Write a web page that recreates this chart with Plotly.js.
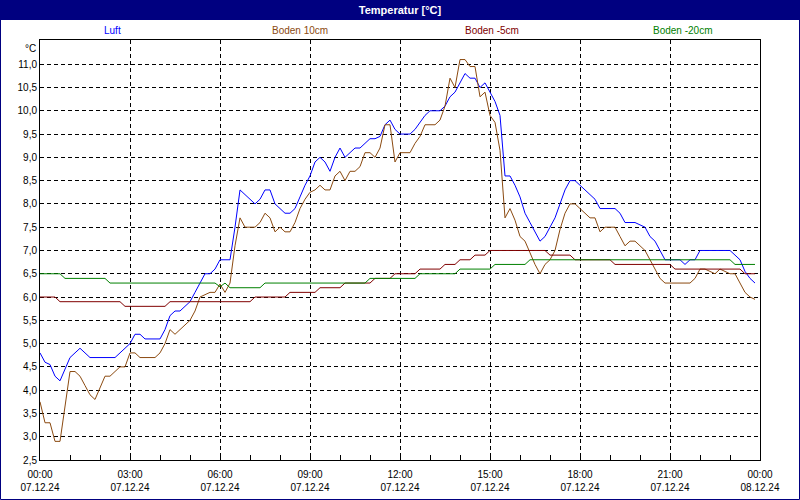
<!DOCTYPE html>
<html>
<head>
<meta charset="utf-8">
<script src="https://cdn.plot.ly/plotly-3.0.1.min.js"></script>
<style>html,body{margin:0;padding:0;background:#fff;}#chart{width:800px;height:500px;}</style>
</head>
<body>
<div id="chart"></div>
<script>
// ---- data (10-minute readings, 07.12.24 00:00 .. 23:50) ----
const startTime = Date.UTC(2024, 11, 7, 0, 0, 0);
const stepMinutes = 10;

const seriesNames = ['Luft', 'Boden 10cm', 'Boden -5cm', 'Boden -20cm'];
const seriesColors = ['#0000FF', '#8B4A10', '#800000', '#008000'];

const luft = [
  4.8,4.6,4.55,4.3,4.2,4.45,4.7,4.8,4.9,4.8,
  4.7,4.7,4.7,4.7,4.7,4.7,4.8,4.9,5.0,5.2,
  5.2,5.1,5.1,5.1,5.1,5.3,5.6,5.7,5.7,5.8,
  5.9,6.1,6.3,6.5,6.5,6.6,6.8,6.8,6.8,7.5,
  8.3,8.2,8.1,8.0,8.1,8.3,8.3,8.0,7.9,7.8,
  7.8,7.9,8.15,8.4,8.6,8.9,9.0,8.9,8.7,9.0,
  9.2,9.0,9.1,9.2,9.2,9.3,9.4,9.4,9.45,9.7,
  9.8,9.6,9.5,9.5,9.5,9.6,9.75,9.9,10.0,10.0,
  10.0,10.1,10.3,10.4,10.6,10.8,10.7,10.7,10.5,10.6,
  10.4,10.2,9.9,8.6,8.6,8.4,8.15,7.8,7.6,7.4,
  7.2,7.3,7.5,7.7,8.0,8.3,8.5,8.5,8.4,8.3,
  8.2,8.1,7.9,7.9,7.9,7.9,7.8,7.6,7.6,7.6,
  7.55,7.5,7.3,7.2,7.0,6.8,6.8,6.8,6.8,6.7,
  6.8,6.8,7.0,7.0,7.0,7.0,7.0,7.0,7.0,6.9,
  6.8,6.55,6.4,6.3
];

const boden10 = [
  3.75,3.3,3.3,2.9,2.9,3.65,4.4,4.4,4.3,4.1,
  3.9,3.8,4.05,4.3,4.3,4.4,4.5,4.5,4.8,4.8,
  4.7,4.7,4.7,4.7,4.8,5.0,5.3,5.2,5.3,5.4,
  5.5,5.7,6.0,6.05,6.1,6.1,6.28,6.1,6.3,7.1,
  7.7,7.5,7.5,7.5,7.6,7.8,7.7,7.4,7.5,7.4,
  7.4,7.6,7.9,8.1,8.25,8.3,8.4,8.3,8.3,8.6,
  8.7,8.5,8.7,8.7,8.8,9.1,9.1,9.0,9.2,9.7,
  9.7,8.9,9.1,9.1,9.1,9.3,9.45,9.7,9.7,9.7,
  9.8,10.1,10.7,10.5,11.1,11.1,10.95,10.95,10.3,10.4,
  9.9,9.75,9.15,7.7,7.9,7.65,7.3,7.2,6.95,6.7,
  6.5,6.7,6.8,7.0,7.45,7.8,8.0,8.0,7.9,7.8,
  7.7,7.7,7.4,7.5,7.5,7.5,7.3,7.1,7.2,7.2,
  7.1,7.0,6.8,6.6,6.4,6.3,6.3,6.3,6.3,6.3,
  6.3,6.4,6.6,6.6,6.55,6.5,6.6,6.55,6.5,6.5,
  6.3,6.1,6.0,5.95
];

const bodenM5 = [
  6.0,6.0,6.0,6.0,5.9,5.9,5.9,5.9,5.9,5.9,
  5.9,5.9,5.9,5.9,5.9,5.9,5.9,5.8,5.8,5.8,
  5.8,5.8,5.8,5.8,5.8,5.8,5.9,5.9,5.9,5.9,
  5.9,5.9,5.9,5.9,5.9,5.9,5.9,5.9,5.9,5.9,
  5.9,5.9,5.9,6.0,6.0,6.0,6.0,6.0,6.0,6.0,
  6.1,6.1,6.1,6.1,6.1,6.1,6.2,6.2,6.2,6.2,
  6.2,6.3,6.3,6.3,6.3,6.3,6.3,6.4,6.4,6.4,
  6.4,6.5,6.5,6.5,6.5,6.5,6.6,6.6,6.6,6.6,
  6.6,6.7,6.7,6.7,6.8,6.8,6.8,6.9,6.9,6.9,
  7.0,7.0,7.0,7.0,7.0,7.0,7.0,7.0,7.0,7.0,
  7.0,7.0,6.9,6.9,6.9,6.9,6.9,6.8,6.8,6.8,
  6.8,6.8,6.8,6.8,6.8,6.7,6.7,6.7,6.7,6.7,
  6.7,6.7,6.7,6.7,6.7,6.7,6.7,6.6,6.6,6.6,
  6.6,6.6,6.6,6.6,6.6,6.6,6.6,6.6,6.6,6.6,
  6.6,6.5,6.5,6.5
];

const bodenM20 = [
  6.5,6.5,6.5,6.5,6.5,6.4,6.4,6.4,6.4,6.4,
  6.4,6.4,6.4,6.4,6.3,6.3,6.3,6.3,6.3,6.3,
  6.3,6.3,6.3,6.3,6.3,6.3,6.3,6.3,6.3,6.3,
  6.3,6.3,6.3,6.3,6.3,6.3,6.22,6.3,6.2,6.2,
  6.2,6.2,6.2,6.2,6.2,6.3,6.3,6.3,6.3,6.3,
  6.3,6.3,6.3,6.3,6.3,6.3,6.3,6.3,6.3,6.3,
  6.3,6.3,6.3,6.3,6.3,6.3,6.4,6.4,6.4,6.4,
  6.4,6.4,6.4,6.4,6.4,6.4,6.5,6.5,6.5,6.5,
  6.5,6.5,6.5,6.5,6.6,6.6,6.6,6.6,6.6,6.6,
  6.6,6.7,6.7,6.7,6.7,6.7,6.7,6.7,6.8,6.8,
  6.8,6.8,6.8,6.8,6.8,6.8,6.8,6.8,6.8,6.8,
  6.8,6.8,6.8,6.8,6.8,6.8,6.8,6.8,6.8,6.8,
  6.8,6.8,6.8,6.8,6.8,6.8,6.8,6.8,6.8,6.8,
  6.8,6.8,6.8,6.8,6.8,6.8,6.8,6.8,6.8,6.7,
  6.7,6.7,6.7,6.7
];

const tickVals = ['2024-12-07 00:00','2024-12-07 03:00','2024-12-07 06:00','2024-12-07 09:00',
  '2024-12-07 12:00','2024-12-07 15:00','2024-12-07 18:00','2024-12-07 21:00','2024-12-08 00:00'];
const tickTimes = ['00:00','03:00','06:00','09:00','12:00','15:00','18:00','21:00','00:00'];
const tickDates = ['07.12.24','07.12.24','07.12.24','07.12.24','07.12.24','07.12.24','07.12.24','07.12.24','08.12.24'];
const yTickVals = [2.5,3.0,3.5,4.0,4.5,5.0,5.5,6.0,6.5,7.0,7.5,8.0,8.5,9.0,9.5,10.0,10.5,11.0];
const yTickText = ['2,5','3,0','3,5','4,0','4,5','5,0','5,5','6,0','6,5','7,0','7,5','8,0','8,5','9,0','9,5','10,0','10,5','11,0'];

// ---- build ----
function pad(n){return (n<10?'0':'')+n;}
const times = luft.map((_, i) => {
  const d = new Date(startTime + i * stepMinutes * 60000);
  return d.getUTCFullYear()+'-'+pad(d.getUTCMonth()+1)+'-'+pad(d.getUTCDate())+' '+pad(d.getUTCHours())+':'+pad(d.getUTCMinutes());
});
const allSeries = [luft, boden10, bodenM5, bodenM20];
const traces = allSeries.map((vals, k) => ({
  type: 'scatter', mode: 'lines', name: seriesNames[k],
  x: times, y: vals,
  line: {color: seriesColors[k], width: 1}
}));

const W = 800, H = 500, ML = 40, MR = 40, MT = 40, MB = 40;
const PW = W - ML - MR, PH = H - MT - MB;
const px = v => (v - ML) / PW;          // pixel x -> paper
const py = v => (H - MB - v) / PH;      // pixel y -> paper
const navy = '#000080';
const fontFam = 'Liberation Sans, Arial, sans-serif';

const legendX = [112, 300, 492, 682];
const annotations = seriesNames.map((n, k) => ({
  xref: 'paper', yref: 'paper', x: px(legendX[k]), y: py(30),
  xanchor: 'center', yanchor: 'middle', showarrow: false,
  text: n, font: {family: fontFam, size: 10, color: seriesColors[k]}
}));
annotations.push({
  xref: 'paper', yref: 'paper', x: 0, y: 1, xanchor: 'right', yanchor: 'top',
  xshift: -2, yshift: -1, showarrow: false, text: '°C',
  font: {family: fontFam, size: 10, color: '#000'}
});

const layout = {
  width: W, height: H,
  margin: {l: ML, r: MR, t: MT, b: MB, pad: 0},
  paper_bgcolor: '#ffffff', plot_bgcolor: '#ffffff',
  separators: ',.',
  showlegend: false,
  font: {family: fontFam, size: 10, color: '#000'},
  title: {text: '<b>Temperatur [°C]</b>', font: {family: fontFam, size: 11, color: '#ffffff'},
          x: 0.5, xanchor: 'center', y: 1 - 10.5 / H, yanchor: 'middle'},
  xaxis: {
    type: 'date', range: [tickVals[0], tickVals[tickVals.length - 1]],
    tickmode: 'array', tickvals: tickVals,
    ticktext: tickTimes.map((t, i) => t + '<br>' + tickDates[i]),
    showgrid: true, gridcolor: '#000', gridwidth: 1, griddash: '4px,3px',
    showline: true, mirror: true, linecolor: '#000', linewidth: 1,
    ticks: 'inside', ticklen: 5, tickcolor: '#000', ticklabelstandoff: 5,
    minor: {dtick: 3600000, tick0: tickVals[0], ticks: 'inside', ticklen: 5, tickcolor: '#000', showgrid: false},
    zeroline: false, tickfont: {family: fontFam, size: 10, color: '#000'}
  },
  yaxis: {
    range: [2.5, 11.52], tickmode: 'array', tickvals: yTickVals, ticktext: yTickText,
    showgrid: true, gridcolor: '#000', gridwidth: 1, griddash: '4px,3px',
    showline: true, mirror: true, linecolor: '#000', linewidth: 1,
    ticks: '', zeroline: false, tickfont: {family: fontFam, size: 10, color: '#000'}
  },
  shapes: [
    {type: 'rect', xref: 'paper', yref: 'paper', layer: 'above',
     x0: px(0), x1: px(W), y0: py(20), y1: py(0), fillcolor: navy, line: {width: 0}},
    {type: 'rect', xref: 'paper', yref: 'paper', layer: 'above',
     x0: px(0.5), x1: px(W - 0.5), y0: py(H - 0.5), y1: py(0.5), line: {color: navy, width: 1}}
  ],
  annotations: annotations
};

Plotly.newPlot('chart', traces, layout, {staticPlot: true, displayModeBar: false});
</script>
</body>
</html>
